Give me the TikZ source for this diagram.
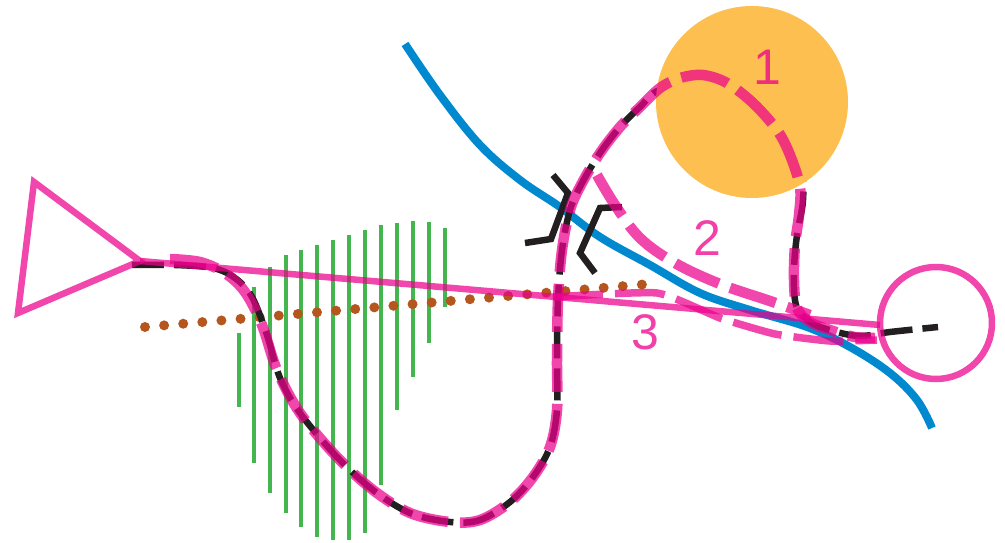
\documentclass[tikz,border=0pt]{standalone}
\usepackage{fontspec}
\newfontfamily\labfont{Liberation Sans}
\definecolor{pk}{HTML}{EC008C}
\definecolor{bl}{HTML}{0089CF}
\definecolor{og}{HTML}{FDBF50}
\definecolor{gr}{HTML}{45B550}
\definecolor{br}{HTML}{B5561F}
\definecolor{bk}{HTML}{231F20}
\tikzset{
  pinkline/.style={draw=pk, draw opacity=0.72, line width=6.5pt},
  pinkdash/.style={draw=pk, draw opacity=0.72, line width=10.5pt, dash pattern=on 48pt off 12pt},
  pinkthin/.style={draw=pk, draw opacity=0.72, line width=7.5pt, dash pattern=on 50pt off 12pt},
  blackdash/.style={draw=bk, line width=6.5pt, dash pattern=on 32pt off 10pt},
  blackmark/.style={draw=bk, line width=6.5pt},
  bluecurve/.style={draw=bl, line width=8pt},
  hatch/.style={draw=gr, line width=4.5pt},
  dots/.style={draw=br, line width=10pt, line cap=round, dash pattern=on 0pt off 19.18pt},
  lab/.style={text=pk, text opacity=0.75, font=\labfont\fontsize{50}{60}\selectfont, inner sep=0pt}
}
\begin{document}
\begin{tikzpicture}[x=1pt,y=-1pt]
\useasboundingbox (0,0) rectangle (1005,543);
% green hatching
\foreach \xx/\ta/\tb in {239/333/407, 254/287/463, 270/267/493, 286/255/513, 301/250/527, 317/245/537, 333/240/540, 349/235/540, 365/230/533, 381/225/485, 397/223/410, 413/221/377, 429/222/343, 445/228/307}
  \draw[hatch] (\xx,\ta) -- (\xx,\tb);
% brown dotted line
\coordinate (d1) at (145,327);
\coordinate (d2) at (660,283);
\draw[dots] (d1) -- (d2);
% blue curve
\draw[bluecurve] plot[smooth, tension=0.6] coordinates {(405,44) (440,95) (480,145) (520,180) (560,207) (600,237) (650,265) (700,293) (750,310) (807,327) (850,347) (890,373) (917,400) (932,428)};
% black dashed stroke
\draw[blackdash] plot[smooth, tension=0.55] coordinates {(132,265) (175,265) (213,268) (235,278) (252,297) (267,335) (280,378) (300,413) (337,457) (373,490) (410,513) (450,522) (480,520) (510,502) (533,477) (550,447) (557,410) (557,360) (558,300) (562,250) (570,210) (582,183) (600,153) (620,127) (640,107) (660,90) (710,85) (770,120) (800,165) (803,200) (797,235) (794,270) (796,305) (810,322) (833,331) (860,336) (890,332) (938,327)};
% orange disc
\fill[og] (752,102) circle[radius=96pt];
% black marks
\draw[blackmark] (553,175) -- (568,193) -- (551,239) -- (525,243);
\draw[blackmark] (622,207) -- (600,208) -- (580,253) -- (595,273);
% pink triangle, circle and straight line
\coordinate (tA) at (34,182);
\coordinate (tB) at (18,313);
\coordinate (tC) at (140,261);
\coordinate (cR) at (936,323);
\draw[pinkline, line join=miter] (tA) -- (tB) -- (tC) -- cycle;
\draw[pinkline] (cR) circle[radius=56pt];
\draw[pinkline] (tC) -- (880,325);
% interpretation 3
\draw[pinkthin] plot[smooth, tension=0.3] coordinates {(553,297) (657,293) (720,318) (775,334) (830,341) (877,340)};
% interpretation 2
\draw[pinkdash] plot[smooth, tension=0.6] coordinates {(597,175) (615,205) (640,238) (675,263) (720,284) (770,301) (810,315)};
% interpretation 1
\draw[pinkdash] plot[smooth, tension=0.55] coordinates {(170,259) (200,262) (225,273) (245,292) (262,325) (277,370) (300,413) (337,457) (373,490) (410,513) (450,522) (480,520) (510,502) (533,477) (550,447) (557,410) (557,360) (558,300) (562,250) (570,210) (582,183) (600,153) (620,127) (640,107) (660,88) (680,78) (703,75) (727,83) (753,103) (777,130) (790,155) (800,187) (799,215) (795,245) (794,280) (797,308) (810,322) (833,331) (855,337) (875,338)};
% labels
\node[lab] (l1) at (767,67) {1};
\node[lab] (l2) at (707,238) {2};
\node[lab] (l3) at (645,332) {3};
\end{tikzpicture}
\end{document}
